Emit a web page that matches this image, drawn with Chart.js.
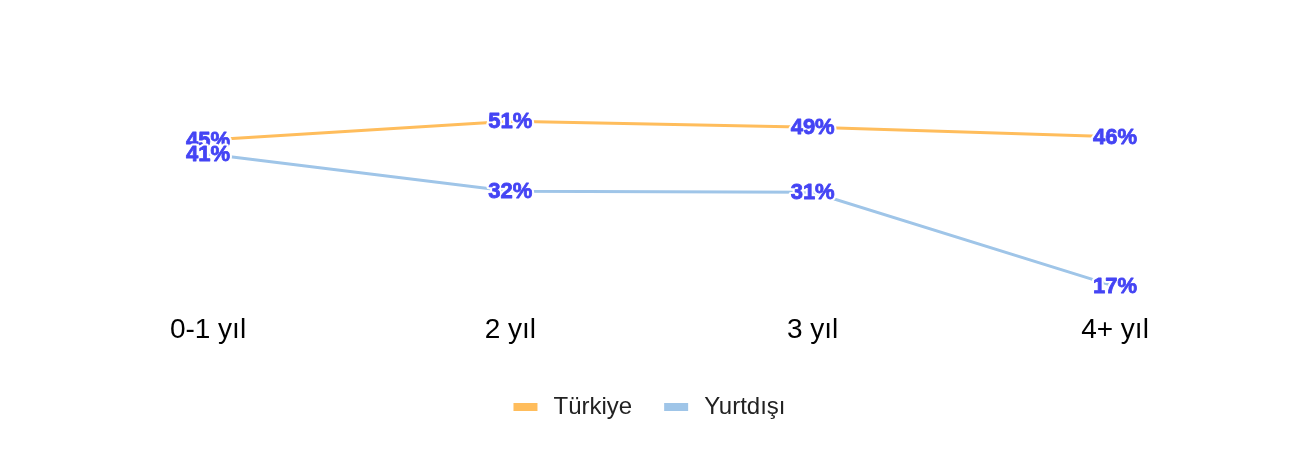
<!DOCTYPE html>
<html>
<head>
<meta charset="utf-8">
<script src="https://cdn.jsdelivr.net/npm/chart.js@4"></script>
<style>
  body { margin: 0; background: #fff; }
  #wrap { width: 1306px; height: 452px; position: relative; }
</style>
</head>
<body>
<div id="wrap"><canvas id="chart"></canvas></div>
<script>
// categories and series
const categories = ['0-1 yıl', '2 yıl', '3 yıl', '4+ yıl'];
const seriesNames = ['Türkiye', 'Yurtdışı'];
// plotted values (the 3 yıl abroad point sits level with 32, its label says 31)
const turkiye = [45, 51, 49, 46];
const yurtdisi = [41, 32, 31.8, 17];
// label text printed on the points
const turkiyeLabels = ['45%', '51%', '49%', '46%'];
const yurtdisiLabels = ['41%', '32%', '31%', '17%'];

// draws the value labels on top of each point, with a white halo
const valueLabels = {
    id: 'valueLabels',
    afterDatasetsDraw(chart) {
        const ctx = chart.ctx;
        ctx.save();
        ctx.font = 'bold 22px "Liberation Sans", Arial, sans-serif';
        ctx.textAlign = 'center';
        ctx.textBaseline = 'middle';
        ctx.lineJoin = 'round';
        chart.data.datasets.forEach((ds, i) => {
            const meta = chart.getDatasetMeta(i);
            meta.data.forEach((pt, j) => {
                const txt = ds.pointLabels[j];
                ctx.lineWidth = 5;
                ctx.strokeStyle = '#ffffff';
                ctx.strokeText(txt, pt.x, pt.y + 1);
                ctx.fillStyle = '#4444f4';
                ctx.fillText(txt, pt.x, pt.y + 1);
                // a thin stroke in the same blue makes it a touch heavier
                ctx.lineWidth = 0.8;
                ctx.strokeStyle = '#4444f4';
                ctx.strokeText(txt, pt.x, pt.y + 1);
            });
        });
        ctx.restore();
    }
};

// legend in the original sits a bit left of the plot centre
const legendShift = {
    id: 'legendShift',
    afterLayout(chart) {
        chart.legend.left -= 14;
        chart.legend.right -= 14;
    }
};

new Chart(document.getElementById('chart'), {
    type: 'line',
    data: {
        labels: categories,
        datasets: [
            {
                label: seriesNames[0],
                data: turkiye,
                pointLabels: turkiyeLabels,
                borderColor: '#ffbd5c',
                backgroundColor: '#ffbd5c',
                borderWidth: 3,
                pointRadius: 0,
                tension: 0
            },
            {
                label: seriesNames[1],
                data: yurtdisi,
                pointLabels: yurtdisiLabels,
                borderColor: '#9fc5e8',
                backgroundColor: '#9fc5e8',
                borderWidth: 3,
                pointRadius: 0,
                tension: 0
            }
        ]
    },
    options: {
        responsive: true,
        maintainAspectRatio: false,
        animation: false,
        layout: {
            padding: { left: 208, right: 191, top: 98, bottom: 23 }
        },
        plugins: {
            legend: {
                position: 'bottom',
                labels: {
                    boxWidth: 32,
                    boxHeight: 16,
                    padding: 28,
                    color: '#222',
                    font: { size: 24, family: '"Liberation Sans", Arial, sans-serif' },
                    // white border trims the swatch down to a short thick bar
                    generateLabels(chart) {
                        return chart.data.datasets.map((ds, i) => ({
                            text: ds.label,
                            fillStyle: ds.borderColor,
                            strokeStyle: '#ffffff',
                            lineWidth: 8,
                            fontColor: '#222',
                            hidden: !chart.isDatasetVisible(i),
                            datasetIndex: i
                        }));
                    }
                }
            },
            tooltip: { enabled: false }
        },
        scales: {
            x: {
                offset: false,
                grid: { display: false, drawTicks: false },
                border: { display: false },
                ticks: {
                    padding: 20,
                    color: '#000',
                    font: { size: 28, family: '"Liberation Sans", Arial, sans-serif' }
                }
            },
            y: {
                type: 'logarithmic',
                display: false,
                min: 16.23,
                max: 59.5
            }
        }
    },
    plugins: [valueLabels, legendShift]
});
</script>
</body>
</html>
